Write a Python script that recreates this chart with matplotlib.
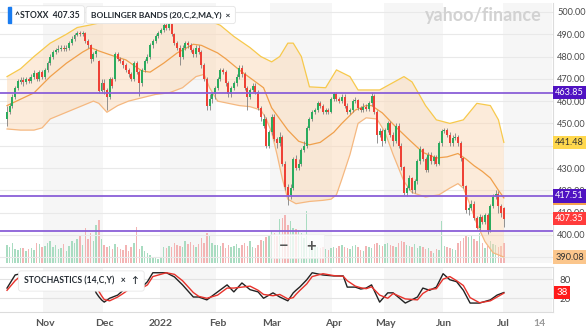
import numpy as np
import pandas as pd
import matplotlib
matplotlib.use("Agg")
import matplotlib.pyplot as plt
from matplotlib.transforms import blended_transform_factory
from matplotlib.patches import Rectangle

plt.rcParams['font.family'] = ['Lato', 'DejaVu Sans']

# trading days shown (STOXX 600, holidays removed)
holidays = ['2021-12-24', '2021-12-31', '2022-04-15', '2022-04-18']
dates = pd.bdate_range('2021-10-12', '2022-07-01')
dates = dates[~dates.isin(pd.to_datetime(holidays))]

# daily OHLC, one row of values per month
closes = [
    455, 458, 462, 466, 469, 469.5, 468.5, 470, 469, 471, 472.5, 470, 473, 471,
    474, 477, 480, 482, 483, 483.5, 484, 483.5, 484, 486, 488, 489.5, 490.5, 490, 490.5, 487, 485, 479, 481, 482.5, 464.5, 468,
    465, 462, 470, 467, 481, 479, 478, 476, 474, 472, 470, 477, 473, 468, 474, 478, 480, 485, 487, 489, 490.5,
    492, 494, 493, 494.5, 490, 486, 484, 480, 484, 486, 485, 483, 481, 484, 482, 476, 470, 458, 461, 463, 466,
    470, 474, 473, 468, 463, 466, 468, 471, 475, 472, 466, 462, 465, 467, 464, 457, 453, 452, 440, 446,
    453, 443, 441, 444, 432, 421.5, 418, 421, 434, 430, 432, 438, 440, 448, 452, 455, 456, 459, 458, 455, 456, 455, 461,
    463, 461, 460, 462, 458, 455, 456, 460, 460.5, 457, 456, 457.5, 456.5, 459, 462.5, 455, 445, 446.5, 442,
    447, 450, 445, 442, 449, 440, 430.5, 419, 421, 425.5, 420, 424, 433, 438.5, 434, 429, 436, 433, 435, 432, 441, 446.5,
    447, 445, 441, 443.5, 444, 441, 434.5, 422, 411, 412, 414, 407.5, 403, 408, 406, 409, 402, 413, 417, 418.5, 413, 410,
    407.35]
opens = [
    452, 455, 458, 462, 466, 468.5, 469.5, 468.5, 470, 469, 471, 472.5, 470, 473,
    471, 474, 477, 480, 482, 483, 483.5, 484, 483.5, 484, 486, 488, 489.5, 490.5, 490, 490.5, 487, 485, 479, 481, 478, 464.5,
    468, 465, 462, 470, 470, 481, 479, 478, 476, 474, 472, 470, 477, 473, 468, 474, 478, 480, 485, 487, 489,
    490.5, 492, 494, 493, 494.5, 490, 486, 484, 480, 484, 486, 485, 483, 481, 484, 482, 476, 470, 458, 461, 463,
    466, 470, 474, 473, 468, 463, 466, 468, 471, 475, 472, 466, 462, 465, 467, 464, 457, 449, 452, 440,
    446, 453, 443, 441, 444, 432, 421.5, 418, 421, 434, 430, 432, 438, 440, 448, 452, 455, 456, 459, 458, 455, 456, 455,
    461, 463, 461, 460, 462, 458, 455, 456, 460, 460.5, 457, 456, 457.5, 456.5, 459, 462.5, 455, 445, 446.5,
    442, 447, 450, 445, 442, 449, 440, 430.5, 419, 421, 425.5, 420, 424, 433, 438.5, 434, 429, 436, 433, 435, 432, 441,
    446.5, 447, 445, 441, 443.5, 444, 441, 434.5, 422, 411, 412, 414, 407.5, 403, 408, 406, 409, 402, 413, 417, 418.5, 413,
    412]
highs = [
    458, 459, 463, 467, 470, 471, 471, 471, 471, 472, 474, 473, 474, 474,
    475, 478, 481, 483, 484, 485, 485, 485, 485, 487, 489, 490.5, 491.5, 491.5, 491.5, 491, 488, 485.5, 482, 483.5, 478.5, 470,
    470, 466, 471, 471, 482, 482, 480, 479, 477, 475, 473, 478, 478, 474, 475, 479, 481, 486, 488, 490, 491.5,
    493, 495, 495, 495.5, 495, 490.5, 487, 485, 485, 487, 487, 486, 484, 485, 485, 483, 477, 471, 463, 464, 467,
    471, 475, 475, 474, 469, 467, 469, 472, 476, 476, 473, 467, 466, 468, 468, 465, 458, 454, 453, 447,
    454, 454, 444, 446, 445, 433, 423, 423, 435, 436, 434, 439, 442, 449, 453, 456, 457, 460, 460, 458.5, 457, 457, 462,
    464, 464, 462, 463, 463, 459, 457, 461, 462, 461, 458, 459, 458.5, 460, 464, 463, 456, 448, 447.5,
    448, 451, 451, 446, 450, 450, 441, 431, 422, 427, 426, 425, 434, 440, 439, 435, 437, 437, 436, 436, 442, 447.5,
    448, 448, 446, 445, 445.5, 445, 442, 435, 422.5, 414, 415.5, 415, 408.5, 409.5, 409, 410, 410, 414, 418.5, 420, 419.5, 414,
    412.5]
lows = [
    449, 454, 457, 461, 465, 467.5, 467, 467.5, 468, 468, 470, 469, 469, 470,
    470, 473, 476, 479, 481, 482, 482.5, 482.5, 482.5, 483, 485, 487, 489, 489, 489, 486, 484, 477, 478, 480, 463.5, 463.5,
    463, 456, 461, 466, 469, 478, 477, 475, 473, 471, 469, 469, 472, 462.5, 467, 473, 477, 479, 484, 486, 488.5,
    490, 491, 492, 492, 489, 485, 483, 476, 479, 483, 484, 482, 480, 480, 481, 475, 469, 456, 456, 459, 461,
    465, 469, 472, 467, 462, 462, 465, 467, 470, 471, 465, 456, 461, 464, 463, 456, 451, 448, 439, 439,
    445, 442, 439, 440, 431, 420, 413.5, 416, 420, 429, 429, 431, 437, 439, 447, 451, 454, 455, 457, 454, 454, 454, 454.5,
    460, 460, 459, 459, 457, 454, 454, 455, 459, 456, 455, 455, 455.5, 455.5, 458, 454, 441, 444, 440,
    441, 446, 444, 440, 441, 439, 429, 418, 417.5, 420, 419, 419, 423, 432, 433, 428, 428, 432, 432, 431, 431.5, 440,
    445.5, 444, 440, 440, 442.5, 440, 433, 421, 410, 409, 411, 406.5, 402.5, 402, 405, 405, 400.5, 401.5, 412, 416, 410, 408,
    403.5]
volume = [
    18, 16, 20, 14, 13, 15, 15, 12, 14, 15, 13, 20, 19, 16,
    17, 20, 22, 16, 18, 14, 15, 19, 12, 17, 22, 20, 24, 28, 18, 35, 24, 30, 22, 38, 43, 24,
    18, 16, 17, 14, 19, 16, 14, 13, 18, 12, 16, 20, 36, 14, 17, 12, 10, 8, 6, 5, 4,
    6, 16, 15, 17, 16, 20, 18, 17, 16, 22, 19, 21, 18, 16, 19, 25, 20, 30, 28, 20, 18,
    18, 17, 20, 15, 18, 16, 17, 19, 15, 18, 20, 17, 22, 16, 15, 18, 23, 22, 26, 27,
    32, 30, 28, 44, 45, 48, 38, 42, 35, 34, 33, 30, 25, 52, 20, 18, 17, 16, 15, 16, 14, 13, 15,
    16, 15, 17, 18, 16, 15, 14, 17, 18, 16, 13, 12, 17, 16, 15, 19, 20, 18, 17,
    19, 20, 18, 17, 16, 20, 22, 21, 18, 17, 16, 19, 15, 17, 16, 14, 15, 12, 10, 14, 13, 42,
    17, 16, 15, 14, 13, 20, 22, 25, 28, 26, 27, 24, 22, 30, 20, 15, 17, 22, 19, 18, 16, 17,
    20]

# Bollinger band lines, sampled along the chart (trading-day index, price)
upper_pos = [0, 5, 10, 16, 22, 26, 31, 34, 36, 42, 49, 55, 58, 64, 70, 75, 79, 84, 90, 94, 98, 101,
             104, 106, 109, 112, 118, 122, 127, 130, 138, 147, 150, 155, 159, 164, 169, 174, 179, 182, 184]
upper_val = [471, 474.5, 480, 486, 490, 493, 494.2, 495, 497.5, 498.5, 497, 496, 497, 498, 497, 496, 494, 489, 484, 480, 477.6, 480,
             486, 486, 480, 466.4, 466, 474, 471, 465, 465, 471, 468.6, 458, 451.6, 450, 451.6, 459, 458, 451.6, 441.48]
mid_pos = [0, 10, 16, 22, 28, 31, 34, 40, 44, 50, 53, 58, 63, 69, 72, 78, 81, 86, 95, 98, 104, 108, 112,
           116, 121, 124, 129, 133, 135, 139, 144, 149, 154, 159, 163, 167, 170, 173, 176, 179, 182, 184]
mid_val = [458, 463.7, 471, 477, 482, 484, 482.5, 480, 478.5, 473.5, 473, 477, 481.6, 485.5, 485, 481.6, 479, 474, 466, 457, 447, 442, 440.4,
           441.5, 446, 450, 456, 458, 458, 454.7, 448.4, 442.6, 437, 434.5, 435, 436.5, 434, 431, 428.5, 425.5, 420, 416.6]
lower_pos = [0, 5, 10, 13, 16, 22, 28, 32, 34, 37, 41, 45, 50, 55, 60, 65, 70, 73, 75, 78, 82, 86, 90, 94, 96,
             98, 100, 102, 104, 107, 112, 117, 120, 122, 124, 127, 130, 133, 137, 140, 143, 145, 147, 150, 155, 160,
             164, 167, 169, 171, 174, 177, 180, 184]
lower_val = [447.5, 447, 447, 448, 452, 455, 458, 460, 459, 455, 458, 460, 461.5, 463, 463.7, 466, 471, 472, 466, 460, 459, 458, 457.5, 456, 452,
             446, 436, 425, 416, 414, 415, 415.5, 416, 418, 425, 436, 450, 452.5, 452, 446, 436, 430, 424, 419, 417, 418,
             421, 423, 421, 415, 405, 397, 392, 390.08]

# stochastics (14)
stoch_pos = [0, 3, 5, 8, 11, 15, 20, 24, 27, 29, 30, 32, 33, 34, 35, 36, 38, 41, 43, 45, 50, 52, 54, 59, 62, 65,
             69, 71, 74, 78, 81.5, 84, 87, 90, 93, 95, 98.5, 101, 104, 106, 107, 108.5, 111, 113, 117, 121,
             124.5, 126, 129, 131, 133, 135, 138, 141, 143, 147.5, 152, 154, 156.5, 159, 161.5, 164, 166.5,
             169, 171.5, 175, 179, 181.5, 184]
stoch_k = [52, 93, 97, 95, 98, 100, 96, 99, 100, 97, 90, 60, 37, 25, 15, 8, 20, 30, 45, 52, 55, 72, 100, 100, 87, 62,
           24, 24, 15, 40, 62, 40, 68, 47, 40, 20, 37, 24, 12, 37, 45, 56, 78, 100, 93, 90,
           90, 55, 55, 49, 52, 62, 8, 37, 37, 5, 24, 52, 45, 55, 97, 78, 72,
           45, 5, 5, 15, 30, 38]
stoch_d = [45, 75, 90, 95, 96, 99, 97, 98, 99, 99, 96, 80, 62, 42, 28, 16, 12, 24, 35, 47, 52, 62, 88, 100, 95, 75,
           38, 26, 20, 30, 52, 52, 55, 58, 45, 32, 28, 32, 18, 22, 32, 45, 65, 88, 97, 91,
           89, 75, 58, 53, 50, 56, 30, 20, 35, 18, 15, 35, 48, 50, 80, 88, 75,
           60, 22, 6, 12, 24, 36]

hlines = [463.85, 417.51, 401.9]

o = np.array(opens); c = np.array(closes); h = np.array(highs); l = np.array(lows)
n = len(dates)
assert len(c) == n and len(o) == n and len(h) == n and len(l) == n and len(volume) == n
x = np.arange(n)
up = c >= o

# month ticks: first trading day of each month, plus Jul 14 in calendar days
month_start = [np.where((dates.year == y) & (dates.month == m))[0][0]
               for y, m in [(2021, 11), (2021, 12), (2022, 1), (2022, 2), (2022, 3),
                            (2022, 4), (2022, 5), (2022, 6), (2022, 7)]]
tick_pos = month_start + [n - 1 + 13]
tick_lab = ['Nov', 'Dec', '2022', 'Feb', 'Mar', 'Apr', 'May', 'Jun', 'Jul', '14']

W, H = 586, 335
fig = plt.figure(figsize=(W / 100, H / 100), dpi=100)
fig.patch.set_facecolor('white')
xl = (-2.6, 202.2)
RFS = 6.6  # right-hand label size

vax = fig.add_axes([0, 1 - 263 / H, 553 / W, 260 / H])
ax = fig.add_axes([0, 1 - 263 / H, 553 / W, 260 / H], sharex=vax)
sax = fig.add_axes([0, 1 - 312 / H, 553 / W, 45 / H], sharex=vax)
vax.set_zorder(0); ax.set_zorder(1); ax.patch.set_visible(False)

# alternating month shading
shade = [(month_start[0], month_start[1]), (month_start[2], month_start[3]),
         (month_start[4], month_start[5]), (month_start[6], month_start[7]),
         (month_start[8], xl[1])]
for a in (vax, sax):
    for s0, s1 in shade:
        a.axvspan(s0 - 0.5, s1 - 0.5, color='#f6f6f6', lw=0, zorder=0)

# volume
vcol = np.where(up, '#a9dcc1', '#f3b4b4')
vax.bar(x, volume, width=0.55, color=vcol, zorder=2)
vax.set_ylim(0, 260)
vax.set_xlim(*xl)
vax.axis('off')

# price grid
ax.set_ylim(387.4, 504.0)
ax.set_xlim(*xl)
for v in range(390, 501, 10):
    ax.axhline(v, color='#e9e9e9', lw=0.8, zorder=1)

# bollinger bands
ax.fill(np.concatenate([upper_pos, lower_pos[::-1]]),
        np.concatenate([upper_val, lower_val[::-1]]),
        color='#fbd9b6', alpha=0.5, lw=0, zorder=2)
ax.plot(upper_pos, upper_val, color='#f7c94c', lw=0.9, zorder=3)
ax.plot(mid_pos, mid_val, color='#f0a04b', lw=0.9, zorder=3)
ax.plot(lower_pos, lower_val, color='#f5b880', lw=0.9, zorder=3)

# candles
ax.vlines(x, l, h, color='#808080', lw=0.6, zorder=4)
body_lo = np.minimum(o, c)
body_h = np.maximum(np.abs(c - o), 0.35)
ax.bar(x, body_h, bottom=body_lo, width=0.72,
       color=np.where(up, '#2bab5e', '#ee4136'), zorder=5)

for v in hlines:
    ax.axhline(v, color='#8a5fd8', lw=1.3, zorder=6)

# price labels (440 and 390 sit under the band tags)
yt = [v for v in range(390, 501, 10) if v not in (390, 440)]
ax.yaxis.tick_right()
ax.set_yticks(yt)
ax.set_yticklabels([f'{v:.2f}' for v in yt])
ax.tick_params(axis='y', length=0, pad=3, labelsize=RFS, labelcolor='#4a4a4a')
ax.tick_params(axis='x', bottom=False, labelbottom=False)
for s in ['top', 'left', 'bottom']:
    ax.spines[s].set_visible(False)
ax.spines['right'].set_color('#dcdcdc')

tr = blended_transform_factory(ax.transAxes, ax.transData)
tags = [(mid_val[-1], f'{mid_val[-1]:.2f}', '#f6a24f', 'white'),
        (hlines[0], f'{hlines[0]:.2f}', '#4f12c2', 'white'),
        (hlines[1], f'{hlines[1]:.2f}', '#4f12c2', 'white'),
        (upper_val[-1], f'{upper_val[-1]:.2f}', '#ffd84e', '#333333'),
        (closes[-1], f'{closes[-1]:.2f}', '#ff3b3b', 'white'),
        (lower_val[-1], f'{lower_val[-1]:.2f}', '#fbc68c', '#333333')]
for val, txt, bg, fg in tags:
    ax.text(1.004, val, txt, transform=tr, ha='left', va='center', fontsize=RFS,
            color=fg, clip_on=False, zorder=10,
            bbox=dict(boxstyle='square,pad=0.25', fc=bg, ec='none'))

# stochastics panel
sax.set_ylim(-23, 118)
sax.set_xlim(*xl)
for v in (20, 80):
    sax.axhline(v, color='#e3e3e3', lw=0.8, zorder=1)
sax.plot(stoch_pos, stoch_k, color='#222222', lw=1.0, zorder=3)
sax.plot(stoch_pos, stoch_d, color='#e8322b', lw=1.0, zorder=3)
sax.yaxis.tick_right()
sax.set_yticks([20, 80])
sax.tick_params(axis='y', length=0, pad=5, labelsize=RFS + 0.4, labelcolor='#4a4a4a')
sax.set_xticks(tick_pos)
sax.set_xticklabels(tick_lab)
sax.tick_params(axis='x', length=0, pad=5, labelsize=7.5, labelcolor='#555555')
for lab in sax.get_xticklabels():
    lab.set_fontweight('bold')
sax.get_xticklabels()[-1].set_color('#9a9a9a')
sax.spines['left'].set_visible(False)
for s in ['top', 'bottom', 'right']:
    sax.spines[s].set_color('#dcdcdc')
str_ = blended_transform_factory(sax.transAxes, sax.transData)
sax.text(1.006, stoch_k[-1], f'{stoch_k[-1]:.0f}', transform=str_, ha='left', va='center',
         fontsize=RFS + 0.4, color='white', clip_on=False, zorder=10,
         bbox=dict(boxstyle='square,pad=0.25', fc='#ff1a1a', ec='none'))

# legend chips and overlays
fig.text(15 / W, 1 - 15 / H, '^STOXX  407.35', fontsize=6.2, color='#232a31', fontweight='bold',
         va='center', ha='left', bbox=dict(boxstyle='round,pad=0.55,rounding_size=0.3', fc='white', ec='#e4e4e4', lw=0.6))
fig.patches.append(Rectangle((8 / W, 1 - 23 / H), 3 / W, 16 / H, transform=fig.transFigure,
                             color='#1a7cf0', zorder=20))
fig.text(91 / W, 1 - 15 / H, 'BOLLINGER BANDS (20,C,2,MA,Y)  \u00d7', fontsize=6.0, color='#232a31',
         fontweight='bold', va='center', ha='left',
         bbox=dict(boxstyle='round,pad=0.6,rounding_size=0.3', fc='white', ec='#e4e4e4', lw=0.6))
fig.text(24 / W, 1 - 281 / H, 'STOCHASTICS (14,C,Y)   \u00d7   \u2191', fontsize=6.2, color='#232a31',
         fontweight='bold', va='center', ha='left',
         bbox=dict(boxstyle='round,pad=0.65,rounding_size=0.3', fc='white', ec='#e8e8e8', lw=0.6))
fig.text(483 / W, 1 - 15 / H, 'yahoo/finance', fontsize=13, color='#d2d2d2', fontweight='bold',
         va='center', ha='center')

fig.patches.append(Rectangle((271 / W, 1 - 258 / H), 53 / W, 24 / H, transform=fig.transFigure,
                             fc='white', alpha=0.75, ec='#eeeeee', lw=0.5, zorder=20))
fig.text(284 / W, 1 - 246 / H, '\u2212', fontsize=12, color='#555555', fontweight='bold',
         ha='center', va='center', zorder=21)
fig.text(311 / W, 1 - 246 / H, '+', fontsize=12, color='#555555', fontweight='bold',
         ha='center', va='center', zorder=21)

fig.savefig('out.png', dpi=100)
